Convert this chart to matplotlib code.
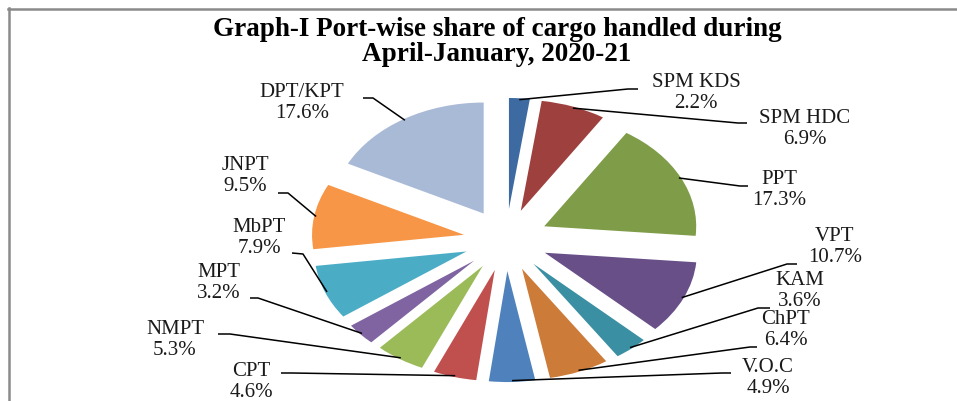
import matplotlib
matplotlib.use("Agg")
import matplotlib.pyplot as plt
import numpy as np
from matplotlib.lines import Line2D

# ---------------- data ----------------
ports = ["SPM KDS", "SPM HDC", "PPT", "VPT", "KAM", "ChPT", "V.O.C",
         "CPT", "NMPT", "MPT", "MbPT", "JNPT", "DPT/KPT"]
shares = [2.2, 6.9, 17.3, 10.7, 3.6, 6.4, 4.9, 4.6, 5.3, 3.2, 7.9, 9.5, 17.6]
title = "Graph-I Port-wise share of cargo handled during\nApril-January, 2020-21"

# ---------------- style ----------------
colors = ["#3D6BA1", "#9E413E", "#7F9C48", "#684F88", "#3A8FA3", "#CC7B38",
          "#4F81BD", "#C0504D", "#9BBB59", "#8064A2", "#4BACC6", "#F79646",
          "#A9BAD7"]

W, H = 957, 401
CX, CY = 506, 240        # pie centre (pixels from top-left)
RX, RY = 152, 111        # pixels per unit radius (stretched pie)
EXPLODE = 0.28

# label layout (pixels): text centre, elbow point, line end near text
label_center = [(696, 93), (805, 129), (779, 190), (835, 247), (800, 291),
                (786, 330), (768, 378), (251, 382), (175, 340), (219, 283),
                (259, 238), (245, 176), (302, 103)]
label_elbow = [(628, 89), (738, 123), (740, 186), (787, 264), (758, 308),
               (750, 347), (722, 373), (292, 373), (230, 334), (258, 298),
               (303, 254), (288, 193), (373, 98)]
label_end = [(638, 89), (747, 123), (748, 186), (797, 264), (770, 308),
             (757, 347), (731, 373), (281, 373), (218, 334), (250, 298),
             (292, 253), (278, 193), (363, 98)]

fig = plt.figure(figsize=(W / 100, H / 100), dpi=100)
ax = fig.add_axes([0, 0, 1, 1])
wedges, _ = ax.pie(shares, colors=colors, startangle=90, counterclock=False,
                   explode=[EXPLODE] * len(shares), radius=1,
                   wedgeprops=dict(linewidth=0))
ax.set_aspect("auto")
ax.set_xlim(-CX / RX, (W - CX) / RX)
ax.set_ylim(-(H - CY) / RY, CY / RY)
ax.axis("off")


def px(x, y):
    return ((x - CX) / RX, (CY - y) / RY)


for w, name, val, c, e, t in zip(wedges, ports, shares, label_center,
                                 label_elbow, label_end):
    th = np.deg2rad((w.theta1 + w.theta2) / 2)
    sx, sy = (1 + EXPLODE) * 0.99 * np.cos(th), (1 + EXPLODE) * 0.99 * np.sin(th)
    ex, ey = px(*e)
    tx, ty = px(*t)
    ax.plot([sx, ex, tx], [sy, ey, ty], color="black", lw=1.1,
            solid_capstyle="butt")
    ax.text(*px(*c), f"{name}\n{val:.1f}%", ha="center", va="center",
            multialignment="center", fontsize=15, family="Liberation Serif",
            color="#1a1a1a", linespacing=1.15)

fig.text(497 / W, 1 - 42 / H, title, ha="center", va="center",
         multialignment="center", fontsize=19.5, fontweight="bold",
         family="Liberation Serif", color="black", linespacing=1.05)

# chart frame (partially visible)
fig.add_artist(Line2D([8 / W, 1], [1 - 9 / H, 1 - 9 / H],
                      transform=fig.transFigure, color="#8a8a8a", lw=1.8))
fig.add_artist(Line2D([9 / W, 9 / W], [1 - 8 / H, 0],
                      transform=fig.transFigure, color="#8a8a8a", lw=1.8))

fig.savefig("out.png", dpi=100, facecolor="white")
